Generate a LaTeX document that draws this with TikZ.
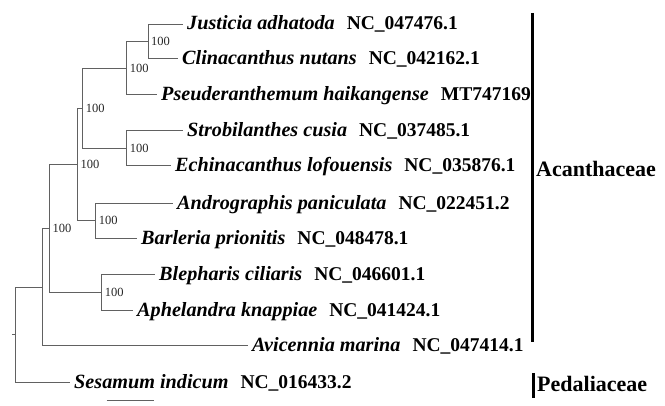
\documentclass[tikz,border=0pt]{standalone}
\usepackage{fontspec}
\setmainfont{Liberation Serif}
\newcommand{\taxon}[2]{{\fontsize{20.2}{21}\selectfont\itshape #1}\hspace{12pt}#2}
\begin{document}
\begin{tikzpicture}[x=1pt,y=-1pt,
  branch/.style={draw=black!62,line width=0.9pt},
  leaf/.style={anchor=base west,inner sep=0pt,xshift=4pt,yshift=-6pt,font=\fontsize{19.5}{20}\selectfont\bfseries},
  boot/.style={anchor=west,inner sep=0pt,xshift=3pt,font=\fontsize{12.5}{13}\selectfont,text=black!85},
  family/.style={anchor=west,inner sep=0pt,font=\fontsize{22}{24}\selectfont\bfseries},
  famline/.style={draw=black,line width=3pt}]
\useasboundingbox (0,0) rectangle (665,406);
% leaves (branch tips)
\coordinate (J)  at (183,24);
\coordinate (C)  at (178,58.7);
\coordinate (P)  at (157,94.7);
\coordinate (S)  at (183,130.7);
\coordinate (E)  at (171,165.7);
\coordinate (A)  at (173,203.3);
\coordinate (B)  at (137,238.3);
\coordinate (Bl) at (155,274.3);
\coordinate (Ap) at (133,310.7);
\coordinate (Av) at (248,345.7);
\coordinate (Se) at (70,382.3);
% internal nodes
\coordinate (nJC)  at (148,41.35);
\coordinate (nJCP) at (126.7,68);
\coordinate (nSE)  at (126.7,148.2);
\coordinate (nA1)  at (82.7,108.1);
\coordinate (nAB)  at (95.7,220.8);
\coordinate (nA2)  at (77.3,164.45);
\coordinate (nBA)  at (101.7,292.5);
\coordinate (nA3)  at (49.3,228.5);
\coordinate (nA4)  at (42.7,287.1);
\coordinate (root) at (15,334.7);
\coordinate (stub) at (12,334.7);
% branches
\path[branch] (nJC) |- (J) (nJC) |- (C)
  (nJCP) |- (nJC) (nJCP) |- (P)
  (nSE) |- (S) (nSE) |- (E)
  (nA1) |- (nJCP) (nA1) |- (nSE)
  (nAB) |- (A) (nAB) |- (B)
  (nA2) |- (nA1) (nA2) |- (nAB)
  (nBA) |- (Bl) (nBA) |- (Ap)
  (nA3) |- (nA2) (nA3) |- (nBA)
  (nA4) |- (nA3) (nA4) |- (Av)
  (root) |- (nA4) (root) |- (Se)
  (stub) -- (root);
% bootstrap values
\node[boot] (b1) at (nJC) {100};
\node[boot] (b2) at (nJCP) {100};
\node[boot] (b3) at (nA1) {100};
\node[boot] (b4) at (nSE) {100};
\node[boot] (b5) at (nA2) {100};
\node[boot] (b6) at (nAB) {100};
\node[boot] (b7) at (nA3) {100};
\node[boot] (b8) at (nBA) {100};
% taxon labels
\node[leaf] (tJ)  at (J)  {\taxon{Justicia adhatoda}{NC\_047476.1}};
\node[leaf] (tC)  at (C)  {\taxon{Clinacanthus nutans}{NC\_042162.1}};
\node[leaf] (tP)  at (P)  {\taxon{Pseuderanthemum haikangense}{MT747169}};
\node[leaf] (tS)  at (S)  {\taxon{Strobilanthes cusia}{NC\_037485.1}};
\node[leaf] (tE)  at (E)  {\taxon{Echinacanthus lofouensis}{NC\_035876.1}};
\node[leaf] (tA)  at (A)  {\taxon{Andrographis paniculata}{NC\_022451.2}};
\node[leaf] (tB)  at (B)  {\taxon{Barleria prionitis}{NC\_048478.1}};
\node[leaf] (tBl) at (Bl) {\taxon{Blepharis ciliaris}{NC\_046601.1}};
\node[leaf] (tAp) at (Ap) {\taxon{Aphelandra knappiae}{NC\_041424.1}};
\node[leaf] (tAv) at (Av) {\taxon{Avicennia marina}{NC\_047414.1}};
\node[leaf] (tSe) at (Se) {\taxon{Sesamum indicum}{NC\_016433.2}};
% family bars
\coordinate (acT) at (532.5,13);
\coordinate (acB) at (532.5,342);
\coordinate (peT) at (533,373);
\coordinate (peB) at (533,398);
\path[famline] (acT) -- (acB) (peT) -- (peB);
\node[family] (fA) at (536,169) {Acanthaceae};
\node[family] (fP) at (537,384) {Pedaliaceae};
% scale bar
\coordinate (sb1) at (106.7,400.7);
\coordinate (sb2) at (154.3,400.7);
\path[branch] (sb1) -- (sb2);
\end{tikzpicture}
\end{document}
